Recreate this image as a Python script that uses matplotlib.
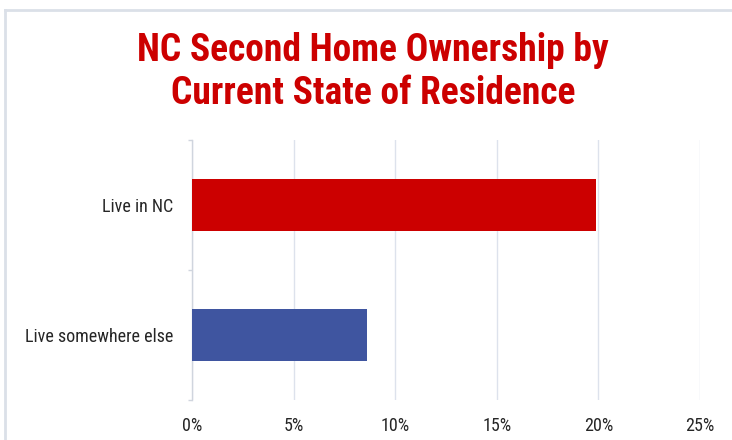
import matplotlib
matplotlib.use("Agg")
import matplotlib.pyplot as plt
from matplotlib import font_manager
from matplotlib.lines import Line2D

# data
categories = ["Live in NC", "Live somewhere else"]
shares = [19.9, 8.6]
bar_colors = ["#cc0000", "#3f55a0"]
xticks = [0, 5, 10, 15, 20, 25]
title = "NC Second Home Ownership by\nCurrent State of Residence"


def pick_family(candidates):
    installed = {f.name for f in font_manager.fontManager.ttflist}
    for name in candidates:
        if name in installed:
            return name
    return "DejaVu Sans"


narrow = pick_family(["Roboto Condensed", "Liberation Sans Narrow", "Open Sans Condensed"])
stretch = "normal" if narrow != "DejaVu Sans" else "condensed"

fig = plt.figure(figsize=(7.32, 4.40), dpi=100)
W, H = 732, 440
ax = fig.add_axes([192 / W, 1 - 400 / H, (700 - 192) / W, 260 / H])

y = list(range(len(categories)))
ax.barh(y, shares, height=0.4, color=bar_colors, zorder=3)
ax.set_ylim(1.5, -0.5)
ax.set_xlim(0, 25)

ax.set_xticks(xticks)
ax.set_xticklabels([f"{t}%" for t in xticks], family=narrow, stretch=stretch,
                   fontsize=13, color="#262626")
ax.set_yticks(y)
ax.set_yticklabels(categories, family=narrow, stretch=stretch,
                   fontsize=13, color="#262626")
ax.set_yticks([-0.5, 0.5, 1.5], minor=True)
ax.tick_params(axis="x", length=0, pad=12)
ax.tick_params(axis="y", which="major", length=0, pad=13.5)
ax.tick_params(axis="y", which="minor", length=3, color="#d0d5de", width=1)

ax.grid(axis="x", color="#dde2ec", linewidth=1, zorder=0)
for side in ["top", "right", "bottom"]:
    ax.spines[side].set_visible(False)
ax.spines["left"].set_color("#d0d5de")
ax.spines["left"].set_linewidth(1)

fig.text(373 / W, 1 - 72 / H, title, ha="center", va="center", family=narrow,
         stretch=stretch, weight="bold", fontsize=27, color="#cc0000",
         linespacing=1.2)

# light frame along the top and left edges
fig.add_artist(Line2D([5 / W, 1], [1 - 10 / H, 1 - 10 / H], transform=fig.transFigure,
                      color="#dbe0e8", linewidth=2))
fig.add_artist(Line2D([5 / W, 5 / W], [0, 1 - 10 / H], transform=fig.transFigure,
                      color="#dbe0e8", linewidth=2))

fig.savefig("out.png", dpi=100)
